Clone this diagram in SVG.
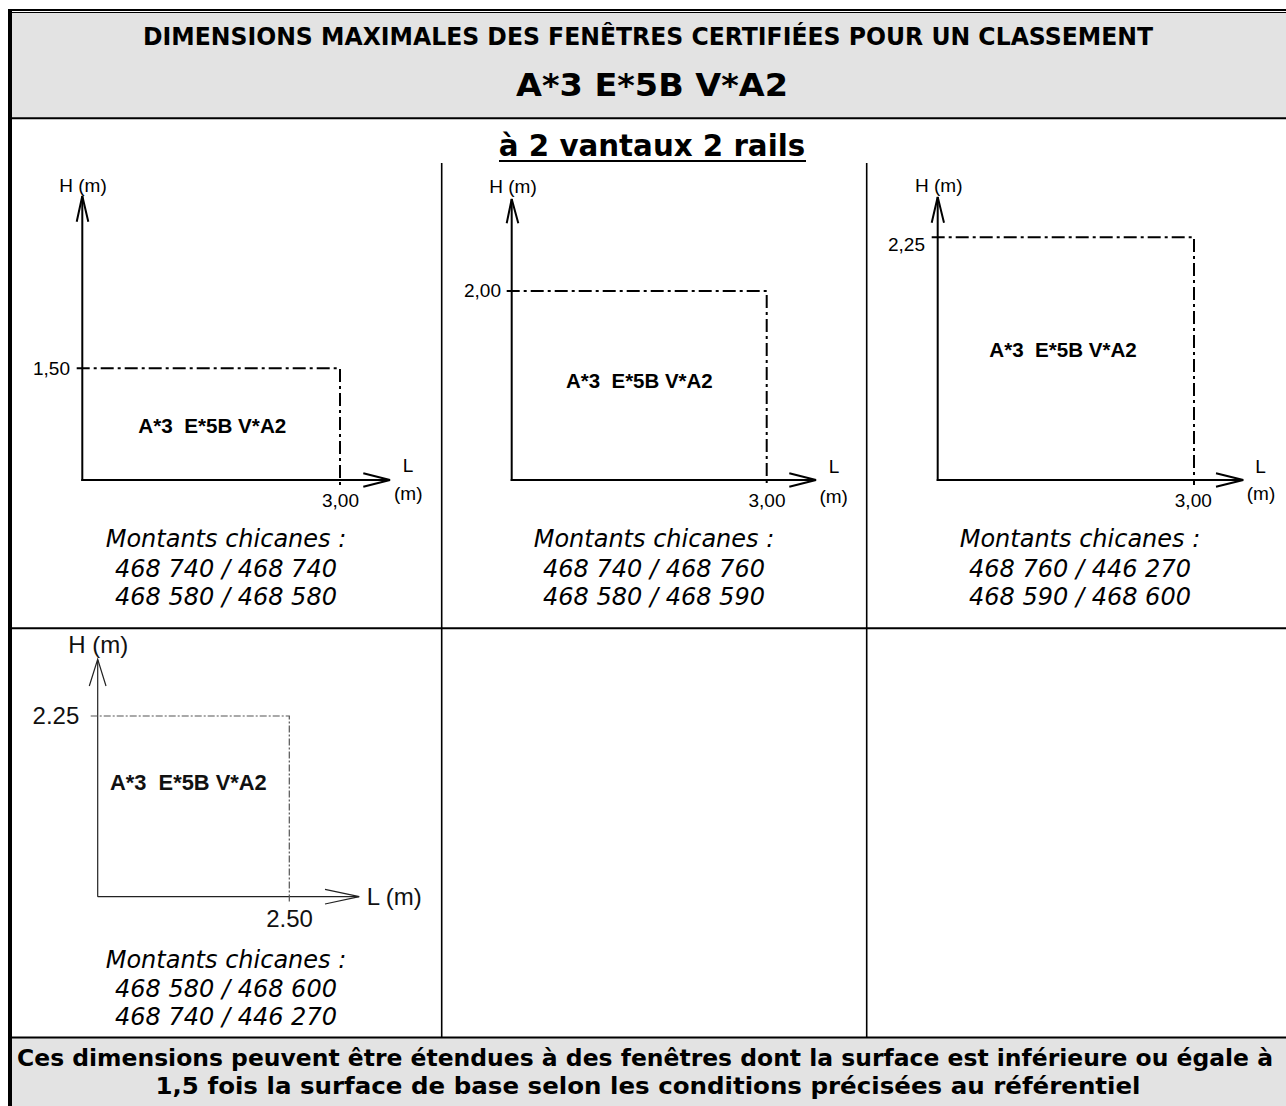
<svg xmlns="http://www.w3.org/2000/svg" width="1286" height="1106" viewBox="0 0 1286 1106">
<style>
.v{font-family:"DejaVu Sans",Verdana,sans-serif;fill:#000}
.vb{font-family:"DejaVu Sans",Verdana,sans-serif;font-weight:bold;fill:#000}
.vi{font-family:"DejaVu Sans",Verdana,sans-serif;font-style:italic;font-size:24px;fill:#000;text-anchor:middle}
.a{font-family:"Liberation Sans",Arial,sans-serif;font-size:19px;fill:#000}
.ab{font-family:"Liberation Sans",Arial,sans-serif;font-size:20px;font-weight:bold;fill:#000}
.a4{font-family:"Liberation Sans",Arial,sans-serif;font-size:24px;fill:#111}
.ab4{font-family:"Liberation Sans",Arial,sans-serif;font-size:22px;font-weight:bold;fill:#111}
.ax{fill:none;stroke:#000;stroke-width:2}
.dd{fill:none;stroke:#000;stroke-width:2;stroke-dasharray:13 4 3 4}
.ax4{fill:none;stroke:#222;stroke-width:1.2}
.dd4{fill:none;stroke:#555;stroke-width:1.2;stroke-dasharray:7 2 2 2}
.grid{stroke:#000;fill:none}
</style>
<rect x="0" y="0" width="1286" height="1106" fill="#fff"/>
<g id="table">
<rect x="12" y="13" width="1280" height="105" fill="#e3e3e3"/>
<rect x="12" y="1038" width="1280" height="70" fill="#e3e3e3"/>
<line class="grid" x1="8" y1="10" x2="1290" y2="10" stroke-width="2"/>
<line class="grid" x1="12" y1="12.5" x2="1290" y2="12.5" stroke-width="1"/>
<rect x="8" y="9" width="4" height="1100" fill="#000"/>
<line class="grid" x1="12" y1="118.3" x2="1290" y2="118.3" stroke-width="2"/>
<line class="grid" x1="12" y1="628.3" x2="1290" y2="628.3" stroke-width="2"/>
<line class="grid" x1="12" y1="1037.5" x2="1290" y2="1037.5" stroke-width="2"/>
<line class="grid" x1="441.7" y1="163" x2="441.7" y2="1037" stroke-width="1.6"/>
<line class="grid" x1="866.7" y1="163" x2="866.7" y2="1037" stroke-width="1.6"/>
</g>
<g id="header">
<text class="vb" x="648" y="45" font-size="24" text-anchor="middle" textLength="1010" lengthAdjust="spacingAndGlyphs">DIMENSIONS MAXIMALES DES FENÊTRES CERTIFIÉES POUR UN CLASSEMENT</text>
<text class="vb" x="652" y="96" font-size="32" text-anchor="middle" textLength="272" lengthAdjust="spacingAndGlyphs">A*3 E*5B V*A2</text>
<text class="vb" x="652" y="156" font-size="29.3" text-anchor="middle">à 2 vantaux 2 rails</text>
<line x1="499" y1="161" x2="806" y2="161" stroke="#000" stroke-width="2.2"/>
</g>
<g id="chart1">
<line class="ax" x1="82.3" y1="196" x2="82.3" y2="481"/>
<polyline class="ax" points="76.7,221.7 82.3,196 88.3,221.7"/>
<line class="ax" x1="81.3" y1="480" x2="389" y2="480"/>
<polyline class="ax" points="363.3,473.3 390,480 363.3,486.7"/>
<polyline class="dd" points="76.7,368.3 340,368.3 340,485"/>
<text class="a" x="59.3" y="191.7">H (m)</text>
<text class="a" x="70" y="375" text-anchor="end">1,50</text>
<text class="ab" x="138.3" y="432.7" xml:space="preserve" textLength="148" lengthAdjust="spacingAndGlyphs">A*3  E*5B V*A2</text>
<text class="a" x="408" y="471.7" text-anchor="middle">L</text>
<text class="a" x="408.3" y="500" text-anchor="middle">(m)</text>
<text class="a" x="340.5" y="506.7" text-anchor="middle">3,00</text>
<text class="vi" x="226" y="546.7">Montants chicanes :</text>
<text class="vi" x="226" y="576.7">468 740 / 468 740</text>
<text class="vi" x="226" y="605">468 580 / 468 580</text>
</g>
<g id="chart2">
<line class="ax" x1="511.7" y1="199" x2="511.7" y2="481"/>
<polyline class="ax" points="506.7,223.3 511.7,199 518.3,223.3"/>
<line class="ax" x1="510.7" y1="480" x2="815" y2="480"/>
<polyline class="ax" points="789.3,473.3 816,480 789.3,486.7"/>
<polyline class="dd" points="506.7,291 766.7,291 766.7,485"/>
<text class="a" x="489.3" y="192.7">H (m)</text>
<text class="a" x="501" y="297.3" text-anchor="end">2,00</text>
<text class="ab" x="566" y="387.7" xml:space="preserve" textLength="146.7" lengthAdjust="spacingAndGlyphs">A*3  E*5B V*A2</text>
<text class="a" x="834" y="472.7" text-anchor="middle">L</text>
<text class="a" x="833.7" y="502.7" text-anchor="middle">(m)</text>
<text class="a" x="767" y="506.7" text-anchor="middle">3,00</text>
<text class="vi" x="654" y="547.3">Montants chicanes :</text>
<text class="vi" x="654" y="577.3">468 740 / 468 760</text>
<text class="vi" x="654" y="605">468 580 / 468 590</text>
</g>
<g id="chart3">
<line class="ax" x1="937.7" y1="197" x2="937.7" y2="481"/>
<polyline class="ax" points="931.7,222.7 937.7,197 944,222.7"/>
<line class="ax" x1="936.7" y1="480" x2="1242" y2="480"/>
<polyline class="ax" points="1216,473.3 1243.3,480 1216,486.7"/>
<polyline class="dd" points="931.7,237.3 1194,237.3 1194,485"/>
<text class="a" x="915" y="192.3">H (m)</text>
<text class="a" x="925" y="250.7" text-anchor="end">2,25</text>
<text class="ab" x="989.3" y="356.7" xml:space="preserve" textLength="147.4" lengthAdjust="spacingAndGlyphs">A*3  E*5B V*A2</text>
<text class="a" x="1260.5" y="472.7" text-anchor="middle">L</text>
<text class="a" x="1261" y="500" text-anchor="middle">(m)</text>
<text class="a" x="1193.3" y="506.7" text-anchor="middle">3,00</text>
<text class="vi" x="1080" y="547">Montants chicanes :</text>
<text class="vi" x="1080" y="577">468 760 / 446 270</text>
<text class="vi" x="1080" y="605">468 590 / 468 600</text>
</g>
<g id="chart4">
<line class="ax4" x1="97.7" y1="660" x2="97.7" y2="896.7"/>
<polyline class="ax4" points="89.3,686 97.7,659.3 106,686"/>
<line class="ax4" x1="97.7" y1="896.7" x2="359" y2="896.7"/>
<polyline class="ax4" points="325,889.3 359.3,896.7 325,904"/>
<polyline class="dd4" points="90.7,716 289.3,716 289.3,903.3"/>
<text class="a4" x="68.3" y="652.7">H (m)</text>
<text class="a4" x="79.3" y="724.3" text-anchor="end">2.25</text>
<text class="ab4" x="110" y="790" xml:space="preserve" textLength="156.7" lengthAdjust="spacingAndGlyphs">A*3  E*5B V*A2</text>
<text class="a4" x="366.7" y="905">L (m)</text>
<text class="a4" x="289.5" y="926.7" text-anchor="middle">2.50</text>
<text class="vi" x="226" y="968.3">Montants chicanes :</text>
<text class="vi" x="226" y="996.7">468 580 / 468 600</text>
<text class="vi" x="226" y="1025">468 740 / 446 270</text>
</g>
<g id="footer">
<text class="vb" x="645" y="1066" font-size="23" text-anchor="middle" textLength="1256" lengthAdjust="spacingAndGlyphs">Ces dimensions peuvent être étendues à des fenêtres dont la surface est inférieure ou égale à</text>
<text class="vb" x="648" y="1094" font-size="23.5" text-anchor="middle" textLength="985" lengthAdjust="spacingAndGlyphs">1,5 fois la surface de base selon les conditions précisées au référentiel</text>
</g>
<g id="connectors"></g>
</svg>
